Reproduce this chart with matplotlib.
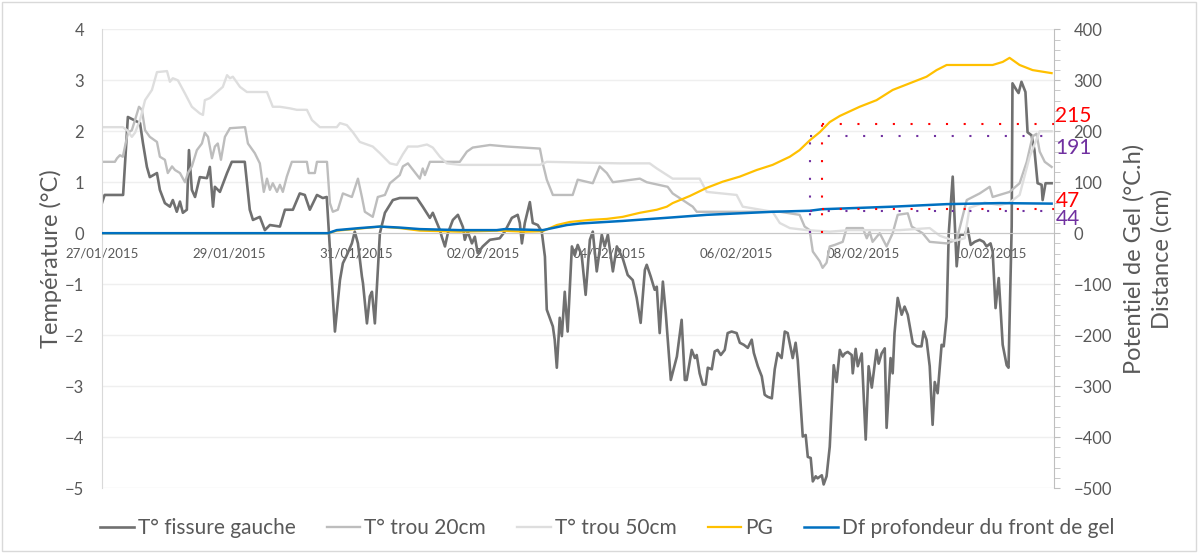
import matplotlib
matplotlib.use('Agg')
import matplotlib.pyplot as plt
from matplotlib.ticker import MultipleLocator
from matplotlib.patches import Rectangle

plt.rcParams['font.family'] = ['Lato', 'DejaVu Sans']

# temps en heures depuis le 27/01/2015 00:00
h_fissure = [0, 1, 8.0, 9.8, 14.4, 15.5, 17.0, 18.1, 20.8, 21.9,
             23.8, 25.7, 26.8, 28.3, 29.5, 30.6, 32.1, 32.9, 34.0, 35.2,
             37.0, 39.7, 40.8, 42.0, 42.7, 44.6, 47.3, 49.1, 54.0, 55.9,
             57.1, 59.7, 61.6, 63.5, 67.3, 69.2, 72.2, 74.8, 76.7, 78.6,
             81.3, 83.5, 85.0, 88.1, 90.0, 91.1, 92.6, 94.5, 95.6, 96.8,
             98.3, 98.7, 100.2, 101.3, 102.1, 103.2, 105.1, 107.0, 110.0, 112.6,
             119.1, 121.3, 124.0, 125.1, 127.8, 128.5, 129.7, 130.8, 132.7, 134.6,
             136.5, 137.2, 138.3, 139.9, 141.0, 142.1, 144.0, 146.7, 150.4, 152.3,
             155.0, 157.2, 158.0, 158.8, 159.9, 161.8, 162.9, 164.8, 166.3, 167.5,
             168.2, 170.5, 171.2, 172.0, 173.1, 173.9, 175.0, 176.1, 177.7, 178.8,
             179.9, 181.4, 182.9, 184.5, 185.6, 187.1, 189.0, 190.1, 191.3, 193.2,
             194.7, 196.9, 198.8, 200.7, 202.2, 203.7, 205.3, 206.0, 207.5, 209.0,
             209.8, 210.9, 212.1, 213.2, 215.1, 217.4, 219.2, 220.4, 221.1, 223.0,
             224.2, 224.9, 226.0, 227.2, 228.3, 229.1, 230.6, 231.7, 232.8, 234.0,
             235.5, 236.6, 238.1, 240.0, 241.2, 242.7, 244.2, 245.7, 246.5, 248.0,
             249.5, 250.6, 251.7, 253.3, 254.4, 255.5, 257.0, 258.2, 259.3, 261.2,
             262.3, 263.1, 265.0, 266.1, 266.9, 268.0, 268.8, 269.9, 270.6, 272.2,
             272.9, 274.0, 275.2, 276.7, 277.8, 279.0, 280.1, 280.9, 282.0, 283.5,
             283.9, 285.0, 285.8, 287.3, 288.8, 289.9, 291.1, 292.9, 293.7, 294.8,
             296.0, 296.7, 298.2, 299.0, 299.7, 300.9, 302.4, 303.5, 304.7, 306.6,
             308.1, 309.9, 310.7, 311.8, 313.0, 314.1, 314.9, 316.0, 317.5, 318.3,
             319.4, 320.2, 321.7, 323.2, 324.3, 326.2, 327.3, 328.5, 330.0, 331.9,
             333.4, 334.5, 336.0, 336.8, 337.9, 339.1, 340.6, 342.1, 342.8, 344.0,
             344.3, 345.8, 346.6, 347.7, 349.2, 350.0, 351.5, 352.6, 353.8, 355.3,
             355.7, 356.8, 359.1]
t_fissure = [0.59, 0.75, 0.75, 2.28, 2.16, 1.77, 1.30, 1.10, 1.18, 0.85,
             0.59, 0.52, 0.65, 0.42, 0.62, 0.40, 0.46, 1.63, 0.85, 0.71,
             1.10, 1.08, 1.30, 0.52, 0.91, 0.81, 1.18, 1.40, 1.40, 0.46,
             0.26, 0.32, 0.06, 0.16, 0.13, 0.46, 0.46, 0.78, 0.75, 0.46,
             0.75, 0.69, 0.71, -1.93, -0.92, -0.59, -0.43, -0.20, 0.03, -0.20,
             -0.85, -0.98, -1.77, -1.24, -1.15, -1.77, 0.00, 0.40, 0.65, 0.69,
             0.69, 0.52, 0.30, 0.40, 0.06, -0.07, -0.26, 0.00, 0.26, 0.36,
             0.12, -0.13, 0.03, -0.20, -0.07, -0.39, -0.26, -0.13, -0.10, 0.03,
             0.30, 0.36, 0.20, -0.20, 0.20, 0.61, 0.20, 0.16, 0.03, -0.46,
             -1.50, -1.83, -2.09, -2.64, -1.66, -2.02, -1.15, -1.93, -0.26, -0.43,
             -0.23, -0.43, -1.21, -0.13, 0.03, -0.75, -0.03, -0.26, -0.03, -0.75,
             -0.26, -0.49, -0.82, -0.92, -1.27, -1.76, -0.72, -0.62, -0.85, -1.11,
             -1.05, -1.96, -0.95, -1.57, -2.88, -2.42, -1.70, -2.88, -2.88, -2.29,
             -2.45, -2.39, -2.75, -2.97, -2.97, -2.64, -2.67, -2.32, -2.29, -2.39,
             -2.29, -1.96, -1.93, -1.96, -2.15, -2.19, -2.25, -2.09, -2.35, -2.61,
             -2.81, -3.17, -3.21, -3.24, -2.67, -2.35, -2.45, -1.93, -1.96, -2.45,
             -2.15, -2.49, -3.99, -3.96, -4.39, -4.41, -4.87, -4.77, -4.81, -4.75,
             -4.93, -4.77, -4.19, -2.59, -2.92, -2.29, -2.42, -2.36, -2.33, -2.39,
             -2.75, -2.27, -2.61, -2.36, -4.05, -2.61, -3.03, -2.29, -2.56, -2.36,
             -2.26, -3.82, -2.45, -2.75, -1.96, -1.27, -1.60, -1.44, -1.60, -2.16,
             -2.22, -2.22, -1.93, -2.09, -2.61, -3.76, -2.92, -3.14, -2.19, -2.22,
             -1.64, 0.00, 1.11, -0.65, -0.03, -0.03, 0.10, -0.23, -0.17, -0.13,
             -0.17, -0.26, -0.20, -0.36, -1.47, -0.88, -2.19, -2.59, -2.64, 0.13,
             2.94, 2.81, 2.75, 2.97, 2.77, 1.98, 1.92, 1.63, 0.98, 0.95,
             0.65, 0.98, 0.98]

h_trou20 = [0, 4.9, 5.7, 6.8, 7.9, 9.8, 11.3, 12.5, 14.0, 15.1,
            16.3, 18.1, 20.8, 21.9, 23.8, 24.9, 26.5, 27.6, 29.5, 31.4,
            32.5, 34.0, 35.9, 37.8, 38.9, 40.1, 41.6, 42.7, 43.8, 45.0,
            46.5, 48.4, 54.1, 55.2, 57.8, 59.7, 61.2, 62.4, 63.5, 64.6,
            66.2, 67.3, 68.4, 69.9, 71.8, 77.5, 78.2, 80.5, 81.3, 85.1,
            86.2, 87.3, 89.2, 91.1, 94.5, 95.6, 96.8, 98.3, 99.4, 102.4,
            104.3, 107.0, 108.9, 112.6, 113.8, 115.7, 120.2, 121.3, 122.1, 124.0,
            135.3, 138.0, 140.2, 146.7, 153.1, 165.6, 166.7, 168.2, 170.5, 178.0,
            179.9, 185.6, 188.2, 190.9, 193.2, 203.4, 206.0, 213.9, 215.8, 223.4,
            224.9, 256.3, 263.8, 265.7, 267.6, 268.8, 271.4, 272.5, 274.0, 275.2,
            277.1, 280.1, 281.6, 287.7, 289.2, 290.3, 291.4, 294.1, 296.7, 299.0,
            300.9, 304.7, 306.2, 310.3, 313.0, 319.4, 323.2, 325.1, 327.0, 331.9,
            335.7, 336.8, 343.2, 347.0, 349.7, 351.9, 353.4, 354.6, 356.5, 359.1]
t_trou20 = [1.40, 1.40, 1.47, 1.53, 1.50, 1.97, 2.02, 2.22, 2.48, 2.42,
            2.02, 1.89, 1.79, 1.50, 1.44, 1.18, 1.31, 1.24, 1.18, 1.00,
            1.18, 1.31, 1.63, 1.76, 1.97, 1.89, 1.47, 1.70, 1.76, 1.44,
            1.89, 2.06, 2.08, 1.76, 1.57, 1.37, 0.81, 1.07, 0.85, 0.98,
            0.81, 0.95, 0.81, 1.11, 1.40, 1.40, 1.18, 1.18, 1.40, 1.40,
            0.59, 0.42, 0.46, 0.78, 0.71, 0.88, 1.07, 0.71, 0.42, 0.32,
            0.71, 0.75, 0.98, 1.14, 1.31, 1.37, 1.07, 1.27, 1.14, 1.40,
            1.40, 1.60, 1.68, 1.73, 1.70, 1.66, 1.37, 1.05, 0.75, 0.75,
            1.05, 0.98, 1.31, 1.18, 1.00, 1.07, 1.00, 0.91, 0.78, 0.52,
            0.42, 0.42, 0.36, 0.13, 0.06, -0.36, -0.55, -0.68, -0.58, -0.26,
            -0.23, -0.17, 0.10, 0.10, -0.10, 0.03, -0.17, 0.00, -0.26, 0.00,
            0.36, 0.39, 0.13, 0.00, -0.17, -0.20, -0.13, 0.26, 0.65, 0.78,
            0.91, 0.71, 0.81, 0.98, 1.40, 1.90, 1.95, 1.60, 1.40, 1.30]

h_trou50 = [0, 7.9, 9.5, 11.3, 12.5, 14.4, 16.3, 18.9, 20.8, 24.6,
            25.7, 26.8, 28.7, 31.4, 34.0, 37.0, 38.2, 38.9, 40.8, 43.5,
            45.7, 47.3, 48.4, 49.5, 52.2, 54.8, 62.4, 64.6, 67.3, 71.0,
            73.7, 77.5, 79.4, 82.4, 88.8, 90.0, 92.6, 94.9, 97.5, 102.4,
            105.1, 108.9, 111.5, 113.8, 115.7, 119.4, 122.9, 125.1, 127.8, 130.4,
            135.3, 165.6, 168.2, 195.8, 207.1, 209.8, 215.8, 226.0, 228.7, 240.0,
            242.3, 253.6, 256.3, 260.1, 266.5, 275.2, 282.7, 301.6, 313.0, 316.8,
            322.4, 326.2, 328.1, 333.8, 339.4, 343.2, 347.0, 350.8, 354.6, 359.1]
t_trou50 = [2.08, 2.08, 2.02, 1.89, 1.97, 2.22, 2.61, 2.81, 3.16, 3.18,
            2.97, 3.04, 3.00, 2.74, 2.48, 2.35, 2.32, 2.61, 2.65, 2.77,
            2.87, 3.10, 3.04, 3.07, 2.87, 2.77, 2.77, 2.48, 2.48, 2.45,
            2.42, 2.42, 2.22, 2.08, 2.08, 2.16, 2.12, 1.98, 1.79, 1.70,
            1.57, 1.37, 1.34, 1.55, 1.70, 1.70, 1.74, 1.68, 1.50, 1.37,
            1.34, 1.34, 1.40, 1.37, 1.37, 1.27, 1.07, 1.07, 0.81, 0.75,
            0.52, 0.42, 0.20, 0.10, 0.06, 0.03, 0.06, 0.06, 0.10, -0.05,
            -0.15, -0.10, 0.50, 0.60, 0.55, 0.60, 0.75, 1.50, 2.00, 2.00]

# potentiel de gel (°C.h)
h_pg = [0, 85.4, 88.8, 97.5, 105.1, 112.6, 120.2, 135.3, 150.4, 159.9,
        166.7, 172.0, 176.9, 184.5, 190.9, 196.9, 203.4, 209.8, 213.6, 215.8,
        222.3, 228.7, 234.7, 241.2, 247.6, 253.6, 260.1, 263.8, 267.6, 271.4,
        275.2, 279.0, 286.5, 292.9, 299.0, 305.4, 311.8, 315.6, 319.4, 336.8,
        340.6, 343.2, 347.0, 351.9, 359.1]
pg = [0, 0, 5, 9, 13, 10, 5, 3, 5, 3,
      4, 16, 22, 26, 28, 32, 40, 46, 52, 59,
      73, 89, 101, 111, 124, 134, 150, 163, 182, 198,
      218, 230, 248, 261, 281, 294, 307, 320, 330, 330,
      336, 344, 330, 320, 314]

# profondeur du front de gel (cm)
h_df = [0, 85.4, 88.8, 97.5, 105.1, 112.6, 120.2, 135.3, 149.3, 152.3,
        159.9, 166.7, 175.8, 180.7, 196.9, 215.8, 228.7, 253.6, 267.6, 272.2,
        299.0, 319.4, 339.4, 359.1]
df = [0, 0, 6, 10, 13, 11, 8, 6, 6, 8,
      7, 6, 16, 19, 24, 31, 36, 42, 44, 47,
      52, 57, 59, 58]

# repères PG / Df aux deux instants
mark_hours = [267.6, 272.2]
mark_pg = [191, 215]
mark_df = [44, 47]
mark_colors = ['#7030a0', '#ff0000']

date_ticks = [0, 48, 96, 144, 192, 240, 288, 336]
date_labels = ['27/01/2015', '29/01/2015', '31/01/2015', '02/02/2015',
               '04/02/2015', '06/02/2015', '08/02/2015', '10/02/2015']

txt = '#595959'

fig = plt.figure(figsize=(11.98, 5.53), dpi=100)
fig.patches.append(Rectangle((0.002, 0.004), 0.996, 0.992, transform=fig.transFigure,
                             fill=False, edgecolor='#d9d9d9', lw=1))
ax = fig.add_axes([0.0851, 0.1175, 0.7947, 0.8295])
ax2 = ax.twinx()

ax.plot(h_fissure, t_fissure, color='#707070', lw=1.9, label='T° fissure gauche')
ax.plot(h_trou20, t_trou20, color='#bdbdbd', lw=1.7, label='T° trou 20cm')
ax.plot(h_trou50, t_trou50, color='#dedede', lw=1.7, label='T° trou 50cm')
ax2.plot(h_pg, pg, color='#ffc000', lw=1.6, label='PG')
ax2.plot(h_df, df, color='#0070c0', lw=1.8, label='Df profondeur du front de gel')

# pointillés : instant -> valeur -> axe de droite
for h, p, d, c in zip(mark_hours, mark_pg, mark_df, mark_colors):
    ax2.plot([h, h], [0, p], color=c, lw=1.5, ls=(0, (1, 7.5)))
    ax2.plot([h, 360], [p, p], color=c, lw=1.5, ls=(0, (1, 7.5)))
    ax2.plot([h, 360], [d, d], color=c, lw=1.5, ls=(0, (1, 7.5)))

offsets = {191: -9, 215: 5.5, 44: -6, 47: 5.8}
for p, d, c in zip(mark_pg, mark_df, mark_colors):
    for v in (p, d):
        ax2.annotate(str(v), xy=(1, v), xycoords=(ax.transAxes, ax2.transData),
                     xytext=(1, offsets[v]), textcoords='offset points',
                     ha='left', va='center', color=c, fontsize=15)

ax.set_xlim(0, 360)
ax.set_ylim(-5, 4)
ax2.set_ylim(-500, 400)

ax.set_xticks(date_ticks)
ax.set_xticklabels(date_labels)
ax.spines['bottom'].set_position(('data', 0))
ax.spines['bottom'].set_color('#c8c8c8')
ax.spines['left'].set_color('#d9d9d9')
ax.spines['top'].set_visible(False)
ax.spines['right'].set_visible(False)
ax.tick_params(axis='x', length=0, pad=10.5, labelsize=9.5, labelcolor=txt)
ax.tick_params(axis='y', length=0, pad=13, labelsize=12, labelcolor=txt)
ax.yaxis.set_major_locator(MultipleLocator(1))
ax.grid(axis='y', color='#efefef', lw=1)
ax.set_axisbelow(True)

for s in ('top', 'left', 'bottom'):
    ax2.spines[s].set_visible(False)
ax2.spines['right'].set_color('#bfbfbf')
ax2.yaxis.set_major_locator(MultipleLocator(100))
ax2.yaxis.set_minor_locator(MultipleLocator(20))
ax2.tick_params(axis='y', which='both', length=4, color='#bfbfbf', pad=10,
                labelsize=12, labelcolor=txt)

ax.set_ylabel('Température (°C)', fontsize=17, color=txt)
ax.yaxis.set_label_coords(-0.042, 0.5)
ax2.set_ylabel('Potentiel de Gel (°C.h)\nDistance (cm)', fontsize=17, color=txt,
               linespacing=1.35)
ax2.yaxis.set_label_coords(1.0725, 0.5)

handles = ax.get_lines()[:3] + ax2.get_lines()[:2]
fig.legend(handles, [l.get_label() for l in handles], loc='center',
           bbox_to_anchor=(0.507, 0.045), ncol=5, frameon=False, fontsize=15,
           handlelength=1.6, handletextpad=0.2, columnspacing=1.5,
           labelcolor=txt)

fig.savefig('out.png', dpi=100)
